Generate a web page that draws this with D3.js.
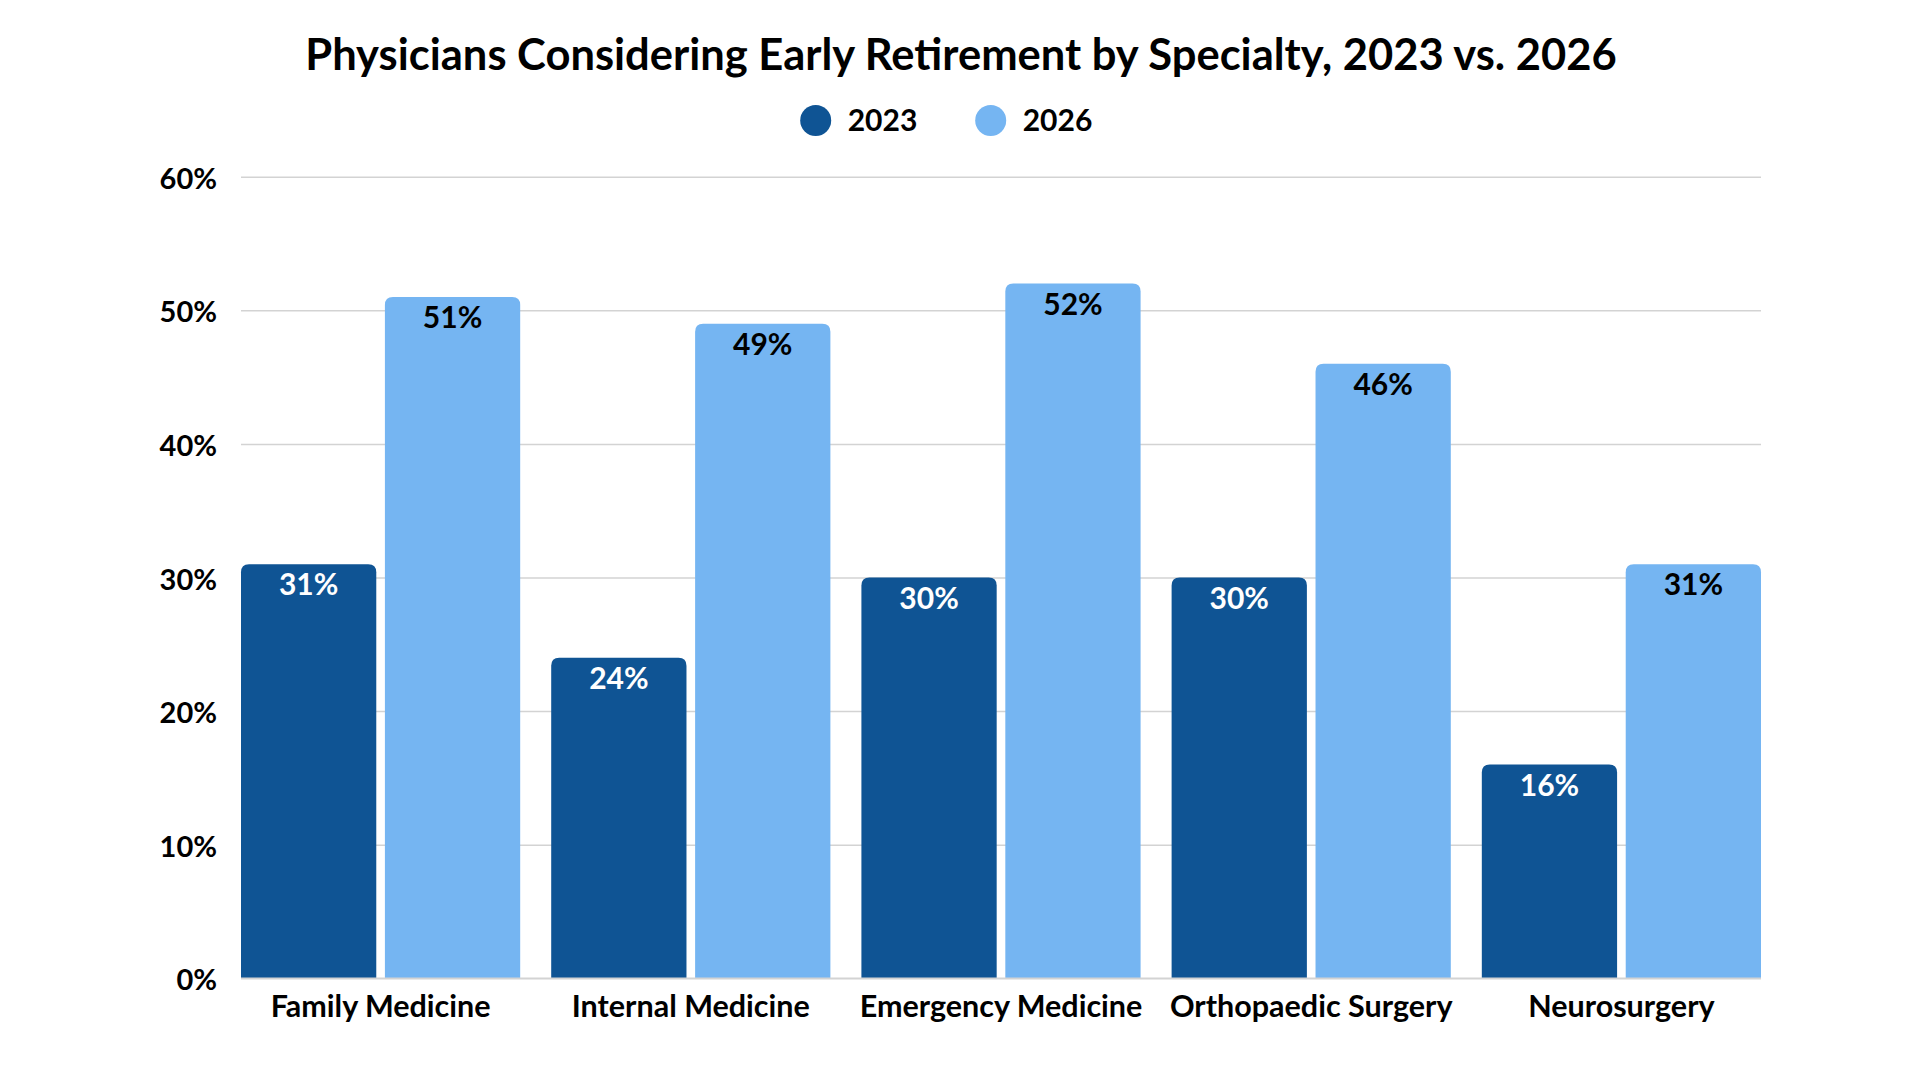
<!DOCTYPE html>
<html>
<head>
<meta charset="utf-8">
<script src="https://cdn.jsdelivr.net/npm/d3@7"></script>
<style>
  body { margin: 0; background: #fff; }
  svg { display: block; font-family: Lato, "Open Sans", sans-serif; }
</style>
</head>
<body>
<div class="chart-div"></div>
<script>
const categories = ["Family Medicine", "Internal Medicine", "Emergency Medicine", "Orthopaedic Surgery", "Neurosurgery"]
const seriesNames = ["2023", "2026"]
const values2023 = [31, 24, 30, 30, 16]
const values2026 = [51, 49, 52, 46, 31]
const yTicks = [0, 10, 20, 30, 40, 50, 60]
const colors = ["#0f5494", "#75b5f2"]

const chart = () => {

    let width = 1920, height = 1080
    let margin = {top: 176.7, right: 159, bottom: 101.7, left: 241}
    let font = "Lato, 'Open Sans', sans-serif"

    let svg = d3.select(".chart-div").append("svg")
        .attr("width", width)
        .attr("height", height)

    let x0 = d3.scaleBand()
        .domain(categories)
        .range([margin.left, width - margin.right])
        .paddingInner(0.1)
        .paddingOuter(0)

    let x1 = d3.scaleBand()
        .domain(seriesNames)
        .range([0, x0.bandwidth()])
        .paddingInner(0.06)

    let y = d3.scaleLinear()
        .domain([0, 60])
        .range([height - margin.bottom, margin.top])

    // gridlines + y labels
    let yAxis = d3.axisLeft(y)
        .tickValues(yTicks)
        .tickSize(-(width - margin.left - margin.right))
        .tickPadding(24)
        .tickFormat(d => d + "%")

    let yG = svg.append("g")
        .attr("transform", `translate(${margin.left},0)`)
        .call(yAxis)
        .attr("font-family", font)
    yG.select(".domain").remove()
    yG.selectAll(".tick line")
        .attr("stroke", "#d3d3d3")
        .attr("stroke-width", 1.5)
    yG.selectAll(".tick text")
        .attr("fill", "#000")
        .attr("dy", "0.4em")
        .style("font-size", "29px")
        .style("font-weight", 700)

    let rows = categories.map((c, i) => ({
        category: c,
        bars: [
            {series: seriesNames[0], value: values2023[i]},
            {series: seriesNames[1], value: values2026[i]}
        ]
    }))

    let r = 8
    let topRounded = (x, yTop, w, h) => {
        let rr = Math.min(r, h, w / 2)
        return `M${x},${yTop + h}V${yTop + rr}Q${x},${yTop} ${x + rr},${yTop}` +
            `H${x + w - rr}Q${x + w},${yTop} ${x + w},${yTop + rr}V${yTop + h}Z`
    }

    let groups = svg.selectAll("g.group")
        .data(rows)
        .enter().append("g")
        .attr("class", "group")
        .attr("transform", d => `translate(${x0(d.category)},0)`)

    groups.selectAll("path")
        .data(d => d.bars)
        .enter().append("path")
        .attr("d", d => topRounded(x1(d.series), y(d.value), x1.bandwidth(), y(0) - y(d.value)))
        .attr("fill", (d, i) => colors[i])

    groups.selectAll("text.value")
        .data(d => d.bars)
        .enter().append("text")
        .attr("class", "value")
        .attr("x", d => x1(d.series) + x1.bandwidth() / 2)
        .attr("y", d => y(d.value) + 31)
        .attr("text-anchor", "middle")
        .attr("fill", (d, i) => i === 0 ? "#fff" : "#000")
        .style("font-size", "30px")
        .style("font-weight", 700)
        .text(d => d.value + "%")

    // baseline
    svg.append("line")
        .attr("x1", margin.left)
        .attr("x2", width - margin.right)
        .attr("y1", y(0))
        .attr("y2", y(0))
        .attr("stroke", "#d3d3d3")
        .attr("stroke-width", 1.5)

    // x labels
    let xAxis = d3.axisBottom(x0).tickSize(0).tickPadding(17)
    let xG = svg.append("g")
        .attr("transform", `translate(0,${y(0)})`)
        .call(xAxis)
        .attr("font-family", font)
    xG.select(".domain").remove()
    xG.selectAll(".tick text")
        .attr("fill", "#000")
        .attr("dy", "0.71em")
        .style("font-size", "30.5px")
        .style("font-weight", 700)

    // title
    svg.append("text")
        .attr("x", width / 2 + 1)
        .attr("y", 70)
        .attr("text-anchor", "middle")
        .style("font-size", "43.5px")
        .style("font-weight", 700)
        .text("Physicians Considering Early Retirement by Specialty, 2023 vs. 2026")

    // legend
    let legendX = [815.7, 990.7]
    let legend = svg.selectAll("g.legend")
        .data(seriesNames)
        .enter().append("g")
        .attr("class", "legend")
        .attr("transform", (d, i) => `translate(${legendX[i]},120.5)`)

    legend.append("circle")
        .attr("r", 15.5)
        .attr("fill", (d, i) => colors[i])

    legend.append("text")
        .attr("x", 32)
        .attr("y", 10.5)
        .style("font-size", "30px")
        .style("font-weight", 700)
        .text(d => d)
}

chart()
</script>
</body>
</html>
